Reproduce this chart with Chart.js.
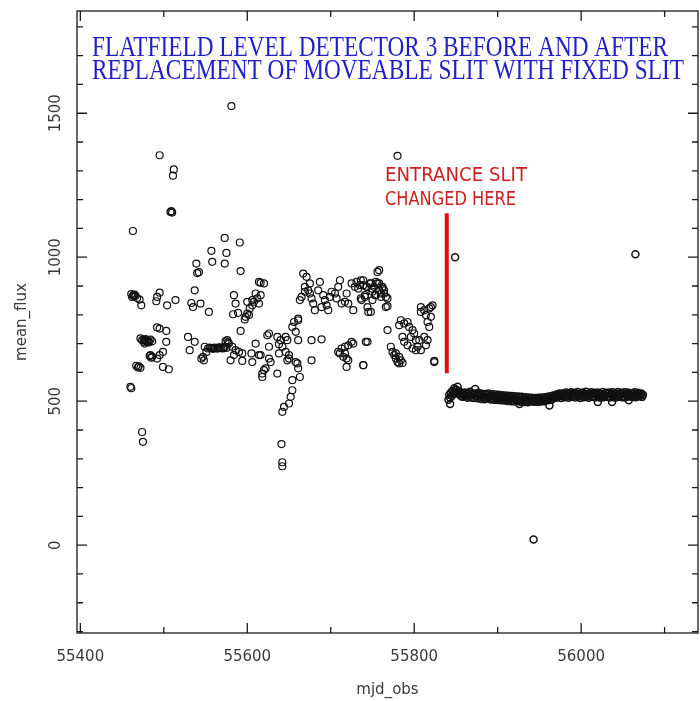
<!DOCTYPE html>
<html>
<head>
<meta charset="utf-8">
<script src="https://cdn.jsdelivr.net/npm/chart.js@4.4.1/dist/chart.umd.min.js"></script>
<style>
html,body{margin:0;padding:0;background:#fff;}
canvas{display:block;}
</style>
</head>
<body>
<canvas id="c" width="700" height="701"></canvas>
<script>
// ---- data ----
const titleLines = ["FLATFIELD LEVEL DETECTOR 3 BEFORE AND AFTER", "REPLACEMENT OF MOVEABLE SLIT WITH FIXED SLIT"];
const noteLines = ["ENTRANCE SLIT", "CHANGED HERE"];
const xAxisTitle = "mjd_obs";
const yAxisTitle = "mean_flux";

const xRange = [55396, 56140];
const yRange = [-305, 1855];
const xMajorTicks = [55400, 55600, 55800, 56000];
const xMinorTicks = [55500, 55700, 55900, 56100];
const yMajorTicks = [0, 500, 1000, 1500];
const yMinorTicks = [-300, -200, -100, 100, 200, 300, 400, 600, 700, 800, 900, 1100, 1200, 1300, 1400, 1600, 1700, 1800];

// slit change marker
const slitLineX = [55839, 55839];
const slitLineY = [1153, 597];

// observations before the slit change
const mjdBefore = [
55460,55461,55463,55464,55462,55466,55468,55471,55473,55474,55475,55470,55472,55476,55478,55480,55477,55482,55486,55484,
55491,55492,55495,55492,55495,55503,55499,55495,55492,55499,55506,55503,55504,55514,55495,55512,55511,55508,55509,55510,
55529,55537,55531,55533,55544,55535,55537,55539,55540,55542,55554,55549,55551,55547,55545,55548,55557,55560,55563,55566,
55569,55572,55575,55576,55578,55582,55586,55590,55594,55584,55580,55594,55606,55605,55614,55557,55558,55573,55575,55573,
55581,55591,55592,55584,55586,55583,55589,55600,55606,55614,55603,55597,55602,55592,55614,
55620,55616,55612,55608,55606,55616,55610,55598,55600,55610,55624,55626,55626,55636,55640,55638,55642,55646,55648,55616,
55626,55628,55638,55646,55650,55648,55650,55620,55618,55622,55618,55636,55654,55660,55661,55663,55658,55654,55652,55650,
55644,55642,55641,55642,55642,55654,55656,55661,55661,55658,55661,55677,55689,55677,55667,55671,55675,55669,55673,
55663,55665,55669,55675,55677,55679,55681,55685,55687,55689,55691,55693,55695,55697,55699,55701,55705,55707,55709,55711,
55713,55717,55719,55721,55725,55727,55729,55731,55733,55735,55737,55739,55741,55743,55745,55747,55749,55750,55752,55754,
55756,55756,55758,55760,55762,55764,55766,55768,
55709,55713,55717,55721,55725,55727,55717,55719,55721,55719,55715,55711,55742,55739,
55736,55739,55743,55748,55754,55758,55762,55764,55766,55753,55760,55741,55736,55750,55744,55748,55768,55758,55780,
55822,55818,55812,55808,55814,55820,55816,55818,55808,55820,55824,
55784,55782,55788,55792,55794,55798,55800,55796,55802,55806,55812,55816,55814,55804,55808,55802,55798,55792,55788,55786,
55768,55744,55772,55774,55776,55778,55780,55782,55784,55778,55782,55786,55739,55824,
55472,55474,55476,55478,55480,55482,55484,55486,55461,55463,55465,55467,55469,55483,55485,
55553,55555,55559,55561,55565,55567,55571,55573,55574,55577
];
const fluxBefore = [
550,545,1091,868,862,865,858,853,833,393,359,621,616,714,710,706,700,708,654,660,
847,862,877,756,752,744,671,660,648,619,611,706,833,851,1354,1305,1283,1157,1160,1155,
723,706,677,841,839,827,885,978,945,948,810,689,671,654,648,642,684,684,683,686,
684,688,685,712,700,689,677,671,666,660,642,640,636,666,660,1022,984,1067,1015,978,
1525,1051,952,868,839,802,807,845,851,839,822,784,799,744,914,
909,911,857,845,833,868,874,793,804,700,729,735,689,723,712,698,689,723,712,660,
648,636,666,671,660,642,648,608,596,614,584,596,573,631,614,584,636,538,515,492,
480,463,351,288,274,758,775,781,787,741,712,712,715,642,943,932,909,897,885,
851,862,880,874,857,839,816,885,914,827,868,851,833,816,862,880,874,857,897,920,
839,845,874,839,909,816,897,914,891,903,851,920,862,897,810,909,891,880,897,868,
949,909,885,862,891,874,827,857,
671,683,689,694,706,700,666,648,642,619,654,666,706,625,
920,903,897,909,914,909,897,885,862,868,874,868,857,851,827,810,830,955,1352,
833,822,816,810,799,793,775,758,827,827,636,
781,764,770,775,758,747,735,723,712,712,723,712,694,689,677,677,683,694,706,723,
747,706,689,671,660,648,636,631,642,666,654,633,625,640,
718,712,706,716,710,704,714,708,872,866,870,623,617,657,651,
683,686,682,686,683,687,683,687,708,704
];

// observations after the slit change
const mjdAfter = [
55841,55842,55843,55844,55845,55846,55847,55848,55849,55850,
55851,55852,55853,55854,55855,55856,55857,55858,55859,55860,
55861,55862,55863,55864,55865,55866,55867,55868,55869,55870,
55871,55872,55873,55874,55875,55876,55877,55878,55879,55880,
55881,55882,55883,55884,55885,55886,55887,55888,55889,55890,
55891,55892,55893,55894,55895,55896,55897,55898,55899,55900,
55901,55902,55903,55904,55905,55906,55907,55908,55909,55910,
55911,55912,55913,55914,55915,55916,55917,55918,55919,55920,
55921,55922,55923,55924,55925,55926,55927,55928,55929,55930,
55931,55932,55933,55934,55935,55936,55937,55938,55939,55940,
55941,55942,55943,55944,55945,55946,55947,55948,55949,55950,
55951,55952,55953,55954,55955,55956,55957,55958,55959,55960,
55961,55962,55963,55964,55965,55966,55967,55968,55969,55970,
55971,55972,55973,55974,55975,55976,55977,55978,55979,55980,
55981,55982,55983,55984,55985,55986,55987,55988,55989,55990,
55991,55992,55993,55994,55995,55996,55997,55998,55999,56000,
56001,56002,56003,56004,56005,56006,56007,56008,56009,56010,
56011,56012,56013,56014,56015,56016,56017,56018,56019,56020,
56021,56022,56023,56024,56025,56026,56027,56028,56029,56030,
56031,56032,56033,56034,56035,56036,56037,56038,56039,56040,
56041,56042,56043,56044,56045,56046,56047,56048,56049,56050,
56051,56052,56053,56054,56055,56056,56057,56058,56059,56060,
56061,56062,56063,56064,56065,56066,56067,56068,56069,56070,
56071,56072,56073,56074,
55843,55849,55926,55962,56020,56037,56057,56065,55943
];
const fluxAfter = [
505,522,512,530,518,536,526,545,532,540,
528,550,536,524,531,518,529,515,527,520,
530,516,525,512,528,519,533,514,526,521,
511,527,542,518,524,510,529,516,522,508,
526,514,520,507,525,513,521,509,527,515,
519,506,524,512,518,505,523,511,517,504,
522,510,516,503,521,509,515,502,520,508,
514,501,519,507,513,500,518,506,512,499,
517,505,511,500,516,504,510,498,515,503,
509,497,514,502,508,496,513,501,507,499,
512,500,506,498,511,503,507,497,512,502,
508,499,513,504,510,500,514,505,511,503,
516,507,512,504,518,509,520,511,517,522,
513,524,516,527,519,511,525,518,528,514,
522,530,516,525,512,527,520,531,515,524,
518,529,513,526,521,532,516,523,511,528,
519,530,514,525,521,533,516,524,512,527,
520,531,515,526,518,529,513,524,521,530,
516,527,512,525,519,532,514,523,520,529,
515,526,518,530,513,524,521,531,516,525,
512,527,519,532,515,524,520,529,514,526,
518,531,513,525,521,530,516,523,519,528,
515,527,520,531,514,524,518,529,516,525,
520,527,515,522,
490,1000,490,485,497,497,503,1010,20
];

// ---- build chart ----
function pts(xs, ys){ return xs.map((x,i)=>({x:x, y:ys[i]})); }

const TEXT = '#3a3a3a';
const decor = {
  id: 'decor',
  afterDraw(chart){
    const ctx = chart.ctx, a = chart.chartArea;
    const xs = chart.scales.x, ys = chart.scales.y;
    ctx.save();
    ctx.strokeStyle = '#1a1a1a';
    ctx.lineWidth = 1.3;
    ctx.strokeRect(a.left, a.top, a.right - a.left, a.bottom - a.top);
    ctx.beginPath();
    const tick = (vals, len) => {
      vals.forEach(v => {
        const px = xs.getPixelForValue(v);
        ctx.moveTo(px, a.bottom); ctx.lineTo(px, a.bottom - len);
        ctx.moveTo(px, a.top); ctx.lineTo(px, a.top + len);
      });
    };
    const tickY = (vals, len) => {
      vals.forEach(v => {
        const py = ys.getPixelForValue(v);
        ctx.moveTo(a.left, py); ctx.lineTo(a.left + len, py);
        ctx.moveTo(a.right, py); ctx.lineTo(a.right - len, py);
      });
    };
    tick(xMajorTicks, 10); tick(xMinorTicks, 6);
    tickY(yMajorTicks, 10); tickY(yMinorTicks, 6);
    ctx.stroke();

    // title (blue, condensed serif)
    ctx.fillStyle = '#1f1fc8';
    ctx.font = '29px "Liberation Serif"';
    ctx.textBaseline = 'alphabetic';
    ctx.textAlign = 'left';
    ctx.fillText(titleLines[0], a.left + 15, a.top + 45, 576);
    ctx.fillText(titleLines[1], a.left + 15, a.top + 68, 592);

    // note (red)
    ctx.fillStyle = '#cc1f1f';
    ctx.font = '20px "DejaVu Sans"';
    ctx.fillText(noteLines[0], a.left + 308, a.top + 170, 142);
    ctx.fillText(noteLines[1], a.left + 308, a.top + 194, 131);
    ctx.restore();
  }
};

const circleStyle = {
  pointStyle: 'circle',
  pointRadius: 3.5,
  pointBorderWidth: 1.2,
  borderColor: '#111',
  backgroundColor: 'rgba(0,0,0,0)',
  showLine: false
};

new Chart(document.getElementById('c'), {
  type: 'scatter',
  data: {
    datasets: [
      Object.assign({ label: 'before', data: pts(mjdBefore, fluxBefore) }, circleStyle),
      Object.assign({ label: 'after', data: pts(mjdAfter, fluxAfter) }, circleStyle, { pointBorderWidth: 1.5 }),
      { type: 'line', label: 'slit change', data: pts(slitLineX, slitLineY),
        borderColor: '#e01010', borderWidth: 4, pointRadius: 0, showLine: true, fill: false }
    ]
  },
  options: {
    responsive: false,
    animation: false,
    events: [],
    layout: { autoPadding: false, padding: { top: 10, right: 2, left: 0, bottom: 0 } },
    plugins: { legend: { display: false }, tooltip: { enabled: false } },
    scales: {
      x: {
        type: 'linear', min: xRange[0], max: xRange[1],
        grid: { display: false, drawTicks: false },
        border: { display: false },
        afterBuildTicks: s => { s.ticks = xMajorTicks.map(v => ({ value: v })); },
        afterFit: s => { s.height = 68; },
        ticks: { padding: 15, color: TEXT, font: { family: 'DejaVu Sans', size: 15 }, maxRotation: 0, callback: v => String(v) },
        title: { display: true, text: xAxisTitle, color: TEXT, font: { family: 'DejaVu Sans', size: 15 }, padding: { top: 0, bottom: 2 } }
      },
      y: {
        type: 'linear', min: yRange[0], max: yRange[1],
        grid: { display: false, drawTicks: false },
        border: { display: false },
        afterBuildTicks: s => { s.ticks = yMajorTicks.map(v => ({ value: v })); },
        afterFit: s => { s.width = 77; },
        ticks: { padding: 2, crossAlign: 'center', minRotation: 90, maxRotation: 90, color: TEXT, font: { family: 'DejaVu Sans', size: 15 }, callback: v => String(v) },
        title: { display: true, text: yAxisTitle, color: TEXT, font: { family: 'DejaVu Sans', size: 15 }, padding: { top: 13, bottom: 0 } }
      }
    }
  },
  plugins: [decor]
});
</script>
</body>
</html>
